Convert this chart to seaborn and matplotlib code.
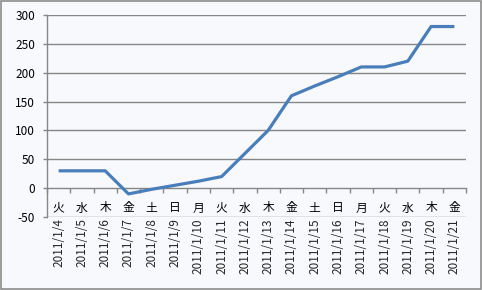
import matplotlib
matplotlib.use("Agg")
import matplotlib.pyplot as plt
import matplotlib.transforms as mtransforms
from matplotlib.patches import Rectangle
import seaborn as sns
import pandas as pd
import numpy as np

dates = ["2011/1/4", "2011/1/5", "2011/1/6", "2011/1/7", "2011/1/8", "2011/1/9",
         "2011/1/10", "2011/1/11", "2011/1/12", "2011/1/13", "2011/1/14", "2011/1/15",
         "2011/1/16", "2011/1/17", "2011/1/18", "2011/1/19", "2011/1/20", "2011/1/21"]
weekdays = ["火", "水", "木", "金", "土", "日", "月", "火", "水", "木", "金", "土",
            "日", "月", "火", "水", "木", "金"]
values = [30, 30, 30, -10, -2, 5, 12, 20, 60, 100, 160, 177, 193, 210, 210, 220, 280, 280]
yticks = [-50, 0, 50, 100, 150, 200, 250, 300]

sns.set_theme(style="white")
plt.rcParams["font.family"] = ["Noto Sans CJK JP", "DejaVu Sans"]

bg = "#F8F9FC"
grid = "#868686"

fig = plt.figure(figsize=(4.82, 2.90), dpi=100, facecolor=bg)
ax = fig.add_axes([47/482, (290-217)/290, (466-47)/482, (217-15)/290])
ax.set_facecolor(bg)

df = pd.DataFrame({"pos": np.arange(len(dates)), "value": values})
sns.lineplot(data=df, x="pos", y="value", ax=ax, color="#4A7EBB", linewidth=2.3,
             solid_capstyle="butt", solid_joinstyle="round", zorder=3)

ax.set_xlim(-0.5, len(dates) - 0.5)
ax.set_ylim(-50, 300)
ax.set_yticks(yticks)
ax.set_yticklabels([str(v) for v in yticks], fontsize=8.5, color="#000000")
for v in yticks:
    if v != 0:
        ax.axhline(v, color=grid, linewidth=1, zorder=1)

for s in ["top", "right"]:
    ax.spines[s].set_visible(False)
ax.spines["left"].set_color(grid)
ax.spines["left"].set_linewidth(1)
ax.spines["bottom"].set_position(("data", 0))
ax.spines["bottom"].set_color(grid)
ax.spines["bottom"].set_linewidth(1)
ax.spines["bottom"].set_zorder(2)

ax.tick_params(axis="y", which="major", direction="out", length=3, width=1,
               color=grid, pad=5.5, left=True)
ax.set_xticks(np.arange(len(dates)))
ax.set_xticklabels(dates, rotation=90, fontsize=8.5, va="top", ha="center")
ax.set_xticks(np.arange(len(dates) + 1) - 0.5, minor=True)
ax.tick_params(axis="x", which="major", length=0, pad=21.5, bottom=True)
ax.tick_params(axis="x", which="minor", direction="out", length=3.6, width=1,
               color=grid, bottom=True)
ax.set_xlabel("")
ax.set_ylabel("")

trans = mtransforms.blended_transform_factory(ax.transData, ax.transAxes)
for i, w in enumerate(weekdays):
    ax.text(i, (217 - 208) / (217 - 15), w, transform=trans, ha="center", va="center",
            fontsize=8.5, color="#000000", zorder=4)

fig.patches.append(Rectangle((0.002, 0.003), 0.995, 0.993, transform=fig.transFigure,
                             fill=False, edgecolor="#8C8C8C", linewidth=1.2))

fig.savefig("out.png", dpi=100, facecolor=bg)
